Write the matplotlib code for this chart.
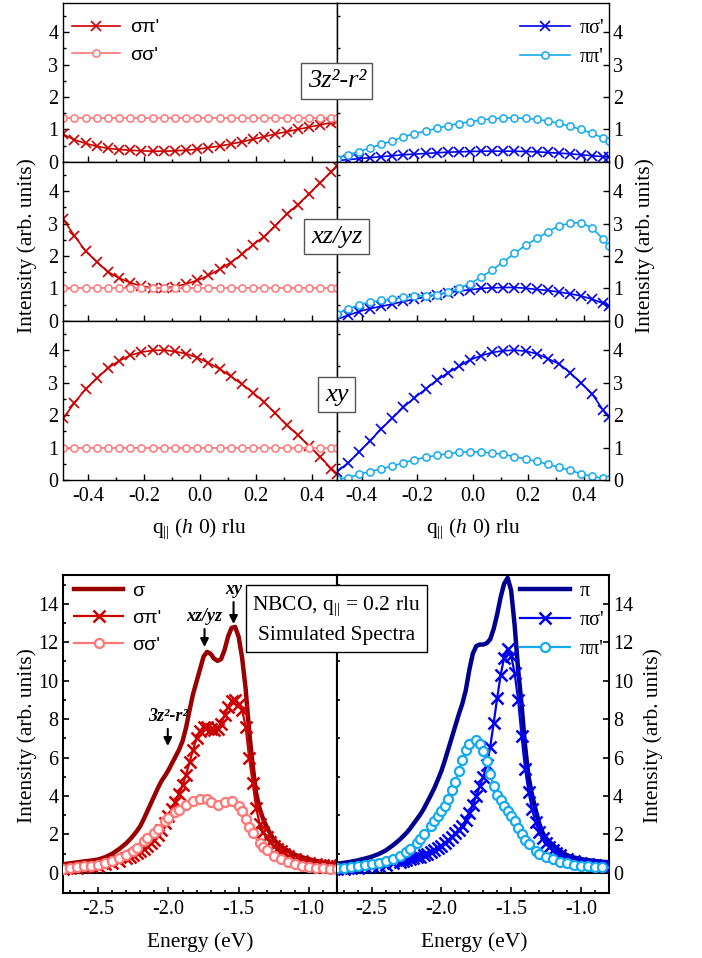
import matplotlib
matplotlib.use('Agg')
import matplotlib.pyplot as plt
from matplotlib.ticker import FixedLocator, MultipleLocator, FormatStrFormatter

plt.rcParams['font.family'] = 'Liberation Serif'
plt.rcParams['mathtext.fontset'] = 'custom'
plt.rcParams['mathtext.rm'] = 'Liberation Serif'
plt.rcParams['mathtext.it'] = 'Liberation Serif:italic'
plt.rcParams['mathtext.bf'] = 'Liberation Serif:bold'
plt.rcParams['axes.unicode_minus'] = False

# ---------------- top: intensity vs q ----------------
q = [-0.49, -0.45, -0.41, -0.37, -0.33, -0.29, -0.25, -0.21, -0.17, -0.13, -0.09, -0.05, -0.01,
     0.03, 0.07, 0.11, 0.15, 0.19, 0.23, 0.27, 0.31, 0.35, 0.39, 0.43, 0.47, 0.49]

# 3z2-r2
sp_3z2 = [0.85, 0.68, 0.57, 0.48, 0.42, 0.38, 0.36, 0.34, 0.33, 0.33, 0.34, 0.36, 0.39,
          0.44, 0.49, 0.55, 0.62, 0.70, 0.78, 0.86, 0.93, 1.00, 1.07, 1.14, 1.21, 1.25]
ss_3z2 = [1.34] * 26
ps_3z2 = [0.04, 0.07, 0.10, 0.13, 0.16, 0.19, 0.22, 0.24, 0.26, 0.28, 0.30, 0.31, 0.32,
          0.33, 0.33, 0.33, 0.33, 0.32, 0.31, 0.29, 0.27, 0.25, 0.22, 0.19, 0.16, 0.15]
pp_3z2 = [0.10, 0.22, 0.32, 0.43, 0.54, 0.65, 0.77, 0.87, 0.95, 1.03, 1.12, 1.18, 1.24,
          1.29, 1.33, 1.35, 1.36, 1.34, 1.31, 1.26, 1.19, 1.10, 1.00, 0.88, 0.73, 0.65]

# xz/yz
sp_xz = [3.13, 2.62, 2.15, 1.82, 1.51, 1.32, 1.18, 1.07, 1.02, 1.01, 1.06, 1.14, 1.25,
         1.40, 1.59, 1.80, 2.05, 2.35, 2.60, 2.94, 3.29, 3.58, 3.91, 4.26, 4.60, 4.78]
ss_xz = [1.0] * 26
ps_xz = [0.05, 0.17, 0.29, 0.38, 0.45, 0.52, 0.60, 0.67, 0.74, 0.81, 0.87, 0.92, 0.96,
         1.00, 1.02, 1.03, 1.03, 1.01, 0.97, 0.94, 0.89, 0.84, 0.77, 0.67, 0.54, 0.46]
pp_xz = [0.22, 0.36, 0.50, 0.58, 0.63, 0.68, 0.73, 0.76, 0.78, 0.81, 0.88, 1.00, 1.15,
         1.35, 1.57, 1.82, 2.08, 2.33, 2.54, 2.74, 2.93, 3.01, 3.03, 2.86, 2.52, 2.30]

# xy
sp_xy = [1.90, 2.38, 2.80, 3.13, 3.45, 3.67, 3.84, 3.94, 3.99, 4.00, 3.96, 3.89, 3.77,
         3.61, 3.42, 3.20, 2.95, 2.69, 2.39, 2.05, 1.69, 1.39, 1.06, 0.72, 0.35, 0.18]
ss_xy = [1.0] * 26
ps_xy = [0.25, 0.52, 0.86, 1.21, 1.57, 1.90, 2.24, 2.53, 2.80, 3.07, 3.30, 3.50, 3.70,
         3.83, 3.93, 3.98, 4.00, 3.97, 3.89, 3.74, 3.58, 3.31, 2.99, 2.65, 2.15, 1.95]
pp_xy = [0.02, 0.07, 0.17, 0.26, 0.34, 0.43, 0.53, 0.62, 0.70, 0.76, 0.81, 0.85, 0.87,
         0.86, 0.83, 0.79, 0.72, 0.65, 0.57, 0.49, 0.39, 0.30, 0.19, 0.11, 0.05, 0.03]

orbitals = ['3z²-r²', 'xz/yz', 'xy']
top_sigma = [(sp_3z2, ss_3z2), (sp_xz, ss_xz), (sp_xy, ss_xy)]
top_pi = [(ps_3z2, pp_3z2), (ps_xz, pp_xz), (ps_xy, pp_xy)]

# ---------------- bottom: simulated spectra ----------------
energy = [-2.75, -2.70, -2.65, -2.60, -2.55, -2.50, -2.45, -2.40, -2.35,
          -2.30, -2.275, -2.25, -2.225, -2.20, -2.175, -2.15, -2.125, -2.10, -2.075,
          -2.05, -2.025, -2.00, -1.975, -1.95, -1.925, -1.90, -1.875, -1.85, -1.825,
          -1.80, -1.775, -1.75, -1.725, -1.70, -1.675, -1.65, -1.625, -1.60, -1.575,
          -1.55, -1.525, -1.50, -1.475, -1.45, -1.425, -1.40, -1.375, -1.35, -1.325,
          -1.30, -1.275, -1.25, -1.225, -1.20, -1.175, -1.15,
          -1.10, -1.05, -1.00, -0.95, -0.90, -0.85, -0.80]

sigma = [0.45, 0.50, 0.55, 0.60, 0.64, 0.70, 0.82, 1.00, 1.25,
         1.55, 1.74, 1.95, 2.18, 2.45, 2.82, 3.22, 3.62, 4.02, 4.42,
         4.78, 5.05, 5.35, 5.70, 6.05, 6.40, 6.85, 7.55, 8.45, 9.30,
         9.95, 10.60, 11.25, 11.50, 11.40, 11.15, 11.03, 11.12, 11.60, 12.30,
         12.75, 12.80, 12.30, 11.20, 9.60, 7.40, 5.60, 4.15, 3.35, 2.80,
         2.40, 2.05, 1.75, 1.55, 1.40, 1.27, 1.15,
         0.95, 0.82, 0.72, 0.62, 0.55, 0.48, 0.43]
sigma_pi = [0.20, 0.23, 0.26, 0.30, 0.34, 0.38, 0.44, 0.52, 0.62,
            0.75, 0.83, 0.92, 1.02, 1.12, 1.24, 1.38, 1.54, 1.72, 1.95,
            2.25, 2.60, 2.95, 3.30, 3.70, 4.10, 4.55, 5.10, 5.75, 6.40,
            7.00, 7.40, 7.60, 7.60, 7.50, 7.45, 7.50, 7.75, 8.20, 8.65,
            8.95, 9.00, 8.80, 8.50, 7.60, 6.00, 4.70, 3.40, 2.55, 2.12,
            1.85, 1.60, 1.42, 1.26, 1.12, 0.98, 0.86,
            0.72, 0.60, 0.52, 0.47, 0.43, 0.40, 0.37]
sigma_sigma = [0.22, 0.26, 0.30, 0.34, 0.38, 0.43, 0.52, 0.62, 0.75,
               0.92, 1.03, 1.15, 1.30, 1.50, 1.65, 1.80, 1.95, 2.10, 2.30,
               2.50, 2.68, 2.85, 3.00, 3.15, 3.28, 3.40, 3.52, 3.62, 3.72,
               3.80, 3.85, 3.87, 3.82, 3.70, 3.58, 3.55, 3.60, 3.70, 3.75,
               3.76, 3.70, 3.50, 3.20, 2.80, 2.40, 2.05, 1.78, 1.55, 1.35,
               1.17, 1.02, 0.90, 0.80, 0.71, 0.63, 0.56,
               0.45, 0.37, 0.31, 0.27, 0.23, 0.20, 0.18]

pi = [0.48, 0.52, 0.58, 0.65, 0.74, 0.84, 0.98, 1.16, 1.42,
      1.72, 1.90, 2.08, 2.30, 2.55, 2.80, 3.05, 3.35, 3.70, 4.05,
      4.42, 4.85, 5.30, 5.85, 6.45, 7.05, 7.65, 8.25, 8.80, 9.50,
      10.55, 11.40, 11.80, 11.88, 11.88, 11.95, 12.15, 12.70, 13.45, 14.35,
      15.05, 15.35, 14.70, 12.90, 10.60, 8.75, 6.60, 5.00, 4.05, 3.30,
      2.60, 2.10, 1.80, 1.62, 1.45, 1.30, 1.15,
      0.92, 0.80, 0.72, 0.66, 0.62, 0.58, 0.55]
pi_sigma = [0.20, 0.22, 0.25, 0.27, 0.30, 0.34, 0.38, 0.43, 0.50,
            0.57, 0.61, 0.65, 0.70, 0.75, 0.80, 0.85, 0.91, 1.00, 1.08,
            1.18, 1.28, 1.40, 1.55, 1.70, 1.88, 2.05, 2.25, 2.45, 2.75,
            3.10, 3.55, 4.00, 4.50, 5.00, 5.60, 6.55, 7.80, 9.10, 10.30,
            11.20, 11.65, 11.30, 10.40, 9.00, 7.10, 5.40, 4.20, 3.30, 2.65,
            2.15, 1.80, 1.55, 1.35, 1.18, 1.04, 0.92,
            0.74, 0.62, 0.53, 0.47, 0.42, 0.38, 0.35]
pi_pi = [0.25, 0.27, 0.30, 0.34, 0.39, 0.45, 0.52, 0.60, 0.72,
         0.88, 0.97, 1.08, 1.22, 1.40, 1.58, 1.78, 2.00, 2.22, 2.45,
         2.70, 2.95, 3.20, 3.50, 3.85, 4.30, 4.75, 5.30, 5.85, 6.40,
         6.70, 6.88, 6.92, 6.72, 6.35, 5.80, 5.15, 4.50, 4.05, 3.78,
         3.50, 3.22, 2.95, 2.68, 2.35, 2.00, 1.72, 1.50, 1.30, 1.12,
         1.00, 0.92, 0.84, 0.77, 0.70, 0.64, 0.58,
         0.50, 0.43, 0.38, 0.34, 0.31, 0.29, 0.27]

c_sp = '#CC0000'
c_ss = '#FF7777'
c_ps = '#0000F0'
c_pp = '#14AAF0'
c_s = '#990000'
c_p = '#000090'

fig = plt.figure(figsize=(7.02, 9.58), dpi=100)

xl, wl = 0.0902, 0.3895
xr, wr = 0.4797, 0.3875
row_bottoms = [0.831, 0.665, 0.499]
row_h = 0.166


def style_top(ax, side, show_x):
    ax.set_xlim(-0.49, 0.49)
    ax.set_ylim(0, 4.9)
    ax.xaxis.set_major_locator(FixedLocator([-0.4, -0.2, 0.0, 0.2, 0.4]))
    ax.xaxis.set_minor_locator(FixedLocator([-0.3, -0.1, 0.1, 0.3]))
    ax.xaxis.set_major_formatter(FormatStrFormatter('%.1f'))
    ax.yaxis.set_major_locator(FixedLocator([0, 1, 2, 3, 4]))
    ax.yaxis.set_minor_locator(FixedLocator([0.5, 1.5, 2.5, 3.5, 4.5]))
    ax.tick_params(which='both', direction='in', top=False, labelsize=14.5, width=1)
    ax.tick_params(which='major', length=4.5)
    ax.tick_params(which='minor', length=2.5)
    ax.tick_params(axis='x', pad=5, labelbottom=show_x)
    if side == 'left':
        ax.tick_params(axis='y', left=True, right=False, pad=3.5)
    else:
        ax.tick_params(axis='y', left=False, right=True, labelleft=False,
                       labelright=True, pad=3)
    for sp in ax.spines.values():
        sp.set_linewidth(1.0)


top_axes = []
for i in range(3):
    axl = fig.add_axes([xl, row_bottoms[i], wl, row_h])
    axr = fig.add_axes([xr, row_bottoms[i], wr, row_h])
    sp_vals, ss_vals = top_sigma[i]
    ps_vals, pp_vals = top_pi[i]
    axl.plot(q, sp_vals, color=c_sp, lw=1.2, marker='x', ms=7, mew=1.2, label="σπ'")
    axl.plot(q, ss_vals, color=c_ss, lw=1.2, marker='o', ms=5.2, mew=1.1,
             mfc='white', label="σσ'")
    axr.plot(q, ps_vals, color=c_ps, lw=1.2, marker='x', ms=7, mew=1.2, label="πσ'")
    axr.plot(q, pp_vals, color=c_pp, lw=1.2, marker='o', ms=5.2, mew=1.1,
             mfc='white', label="ππ'")
    style_top(axl, 'left', i == 2)
    style_top(axr, 'right', i == 2)
    top_axes.append((axl, axr))

leg_kw = dict(frameon=False, borderpad=0, borderaxespad=0, handlelength=2.5,
              handletextpad=0.5, labelspacing=0.5, numpoints=1)
top_axes[0][0].legend(loc='upper left', bbox_to_anchor=(0.03, 0.9),
                      prop={'family': 'Liberation Sans', 'size': 14}, **leg_kw)
top_axes[0][1].legend(loc='upper right', bbox_to_anchor=(0.985, 0.9),
                      prop={'family': 'Liberation Serif', 'size': 14.5}, **leg_kw)

box_kw = dict(boxstyle='square,pad=0.25', fc='white', ec='#555555', lw=1)
box_y = [0.9154, 0.7531, 0.5882]
for name, yb in zip(orbitals, box_y):
    fig.text(xr, yb, name, style='italic', fontsize=19, ha='center', va='center',
             bbox=box_kw, zorder=10)

# ---------------- bottom panels ----------------
bl = fig.add_axes([xl, 0.0678, wl, 0.332])
br = fig.add_axes([xr, 0.0678, wr, 0.332])

bl.plot(energy, sigma, color=c_s, lw=3.2, label='σ', zorder=3)
bl.plot(energy, sigma_pi, color=c_sp, lw=1.6, marker='x', ms=9, mew=1.8,
        label="σπ'", zorder=4)
bl.plot(energy, sigma_sigma, color=c_ss, lw=1.6, marker='o', ms=6.5, mew=1.6,
        mfc='white', markevery=0.017, label="σσ'", zorder=5)

br.plot(energy, pi, color=c_p, lw=3.2, label='π', zorder=3)
br.plot(energy, pi_sigma, color=c_ps, lw=1.6, marker='x', ms=9, mew=1.8,
        label="πσ'", zorder=4)
br.plot(energy, pi_pi, color=c_pp, lw=1.6, marker='o', ms=6.5, mew=1.6,
        mfc='white', markevery=0.017, label="ππ'", zorder=5)

for ax, side in [(bl, 'left'), (br, 'right')]:
    ax.axhline(0, color='k', lw=1.5, zorder=1)
    ax.set_xlim(-2.75, -0.8)
    ax.set_ylim(-1.05, 15.5)
    ax.xaxis.set_major_locator(FixedLocator([-2.5, -2.0, -1.5, -1.0]))
    ax.xaxis.set_minor_locator(MultipleLocator(0.1))
    ax.xaxis.set_major_formatter(FormatStrFormatter('%.1f'))
    ax.yaxis.set_major_locator(FixedLocator([0, 2, 4, 6, 8, 10, 12, 14]))
    ax.yaxis.set_minor_locator(FixedLocator([1, 3, 5, 7, 9, 11, 13, 15]))
    ax.tick_params(which='both', direction='in', top=False, labelsize=14.5, width=1.2)
    ax.tick_params(which='major', length=4.5)
    ax.tick_params(which='minor', length=2.5)
    ax.tick_params(axis='x', pad=5)
    if side == 'left':
        ax.tick_params(axis='y', left=True, right=False, pad=3.5)
    else:
        ax.tick_params(axis='y', left=False, right=True, labelleft=False,
                       labelright=True, pad=3)
    for sp in ax.spines.values():
        sp.set_linewidth(1.5)

bl.legend(loc='upper left', bbox_to_anchor=(0.04, 0.978),
          prop={'family': 'Liberation Sans', 'size': 14}, **leg_kw)
br.legend(loc='upper right', bbox_to_anchor=(0.985, 0.978),
          prop={'family': 'Liberation Serif', 'size': 14.5}, **leg_kw)

arrow_kw = dict(arrowstyle='-|>', color='k', lw=1.5, mutation_scale=12,
                shrinkA=1, shrinkB=0)
bl.annotate('xy', xy=(-1.536, 12.95), xytext=(-1.536, 14.75), ha='center', va='center',
            fontsize=13, fontweight='bold', style='italic', arrowprops=arrow_kw)
bl.annotate('xz/yz', xy=(-1.743, 11.75), xytext=(-1.743, 13.35), ha='center',
            va='center', fontsize=13, fontweight='bold', style='italic',
            arrowprops=arrow_kw)
bl.annotate('3z²-r²', xy=(-2.005, 6.6), xytext=(-2.005, 8.15), ha='center',
            va='center', fontsize=13, fontweight='bold', style='italic',
            arrowprops=arrow_kw)

fig.text(xr, 0.3528, 'NBCO, q$_{||}$ = 0.2 rlu\nSimulated Spectra', fontsize=15.5,
         ha='center', va='center', multialignment='center', linespacing=1.6,
         bbox=dict(boxstyle='square,pad=0.3', fc='white', ec='k', lw=1), zorder=10)

# axis labels
ylab = 'Intensity (arb. units)'
fig.text(0.038, 0.744, ylab, rotation=90, fontsize=15.5, ha='center', va='center')
fig.text(0.919, 0.744, ylab, rotation=90, fontsize=15.5, ha='center', va='center')
fig.text(0.038, 0.232, ylab, rotation=90, fontsize=15.5, ha='center', va='center')
fig.text(0.930, 0.232, ylab, rotation=90, fontsize=15.5, ha='center', va='center')

qlab = r'q$_{||}$ ($h$ 0) rlu'
fig.text(0.284, 0.448, qlab, fontsize=15.5, ha='center', va='center')
fig.text(0.674, 0.448, qlab, fontsize=15.5, ha='center', va='center')
fig.text(0.285, 0.0167, 'Energy (eV)', fontsize=15.5, ha='center', va='center')
fig.text(0.675, 0.0167, 'Energy (eV)', fontsize=15.5, ha='center', va='center')

fig.savefig('out.png', dpi=100)
